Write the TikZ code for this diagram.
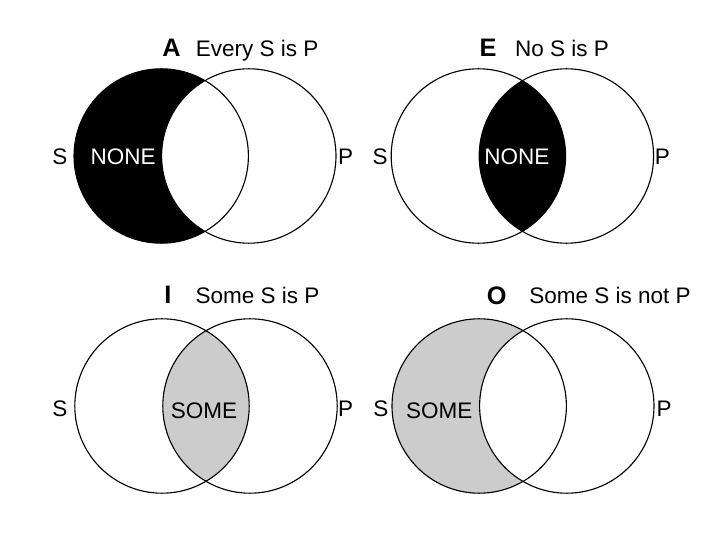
\documentclass[tikz,border=0pt]{standalone}
\usepackage{fontspec}
\setmainfont{Liberation Sans}
\tikzset{
  ring/.style={draw,line width=0.8pt},
  mood/.style={anchor=base,inner sep=0pt,font=\fontsize{18}{20}\selectfont\bfseries},
  lbl/.style={anchor=base,inner sep=0pt}
}
\begin{document}
\begin{tikzpicture}[font=\fontsize{16}{18}\selectfont]
\useasboundingbox (0,0) rectangle (18,13.5);
\def\rr{2.18}

% Circle centres
\coordinate (sA) at (4.03,9.6);
\coordinate (pA) at (6.22,9.6);
\coordinate (sE) at (11.96,9.6);
\coordinate (pE) at (14.16,9.6);
\coordinate (sI) at (4.05,3.35);
\coordinate (pI) at (6.25,3.35);
\coordinate (sO) at (11.98,3.35);
\coordinate (pO) at (14.17,3.35);

% A: Every S is P
\fill[black] (sA) circle (\rr);
\fill[white] (pA) circle (\rr);
\draw[ring] (sA) circle (\rr);
\draw[ring] (pA) circle (\rr);
\node[mood] (mA) at (4.29,12.08) {A};
\node[lbl] (tA) at (6.43,12.08) {Every S is P};
\node[lbl] (lsA) at (1.5,9.375) {S};
\node[lbl] (lpA) at (8.64,9.375) {P};
\node[lbl,text=white] (nA) at (3.08,9.375) {NONE};

% E: No S is P
\begin{scope}
  \clip (sE) circle (\rr);
  \fill[black] (pE) circle (\rr);
\end{scope}
\draw[ring] (sE) circle (\rr);
\draw[ring] (pE) circle (\rr);
\node[mood] (mE) at (12.2,12.08) {E};
\node[lbl] (tE) at (14.05,12.08) {No S is P};
\node[lbl] (lsE) at (9.5,9.375) {S};
\node[lbl] (lpE) at (16.56,9.375) {P};
\node[lbl,text=white] (nE) at (12.92,9.375) {NONE};

% I: Some S is P
\begin{scope}
  \clip (sI) circle (\rr);
  \fill[black!20] (pI) circle (\rr);
\end{scope}
\draw[ring] (sI) circle (\rr);
\draw[ring] (pI) circle (\rr);
\node[mood] (mI) at (4.2,5.92) {I};
\node[lbl] (tI) at (6.44,5.92) {Some S is P};
\node[lbl] (lsI) at (1.5,3.09) {S};
\node[lbl] (lpI) at (8.64,3.09) {P};
\node[lbl] (nI) at (5.1,3.025) {SOME};

% O: Some S is not P
\fill[black!20] (sO) circle (\rr);
\fill[white] (pO) circle (\rr);
\draw[ring] (sO) circle (\rr);
\draw[ring] (pO) circle (\rr);
\node[mood] (mO) at (12.42,5.875) {O};
\node[lbl] (tO) at (15.25,5.92) {Some S is not P};
\node[lbl] (lsO) at (9.52,3.09) {S};
\node[lbl] (lpO) at (16.6,3.09) {P};
\node[lbl] (nO) at (10.98,3.025) {SOME};
\end{tikzpicture}
\end{document}
